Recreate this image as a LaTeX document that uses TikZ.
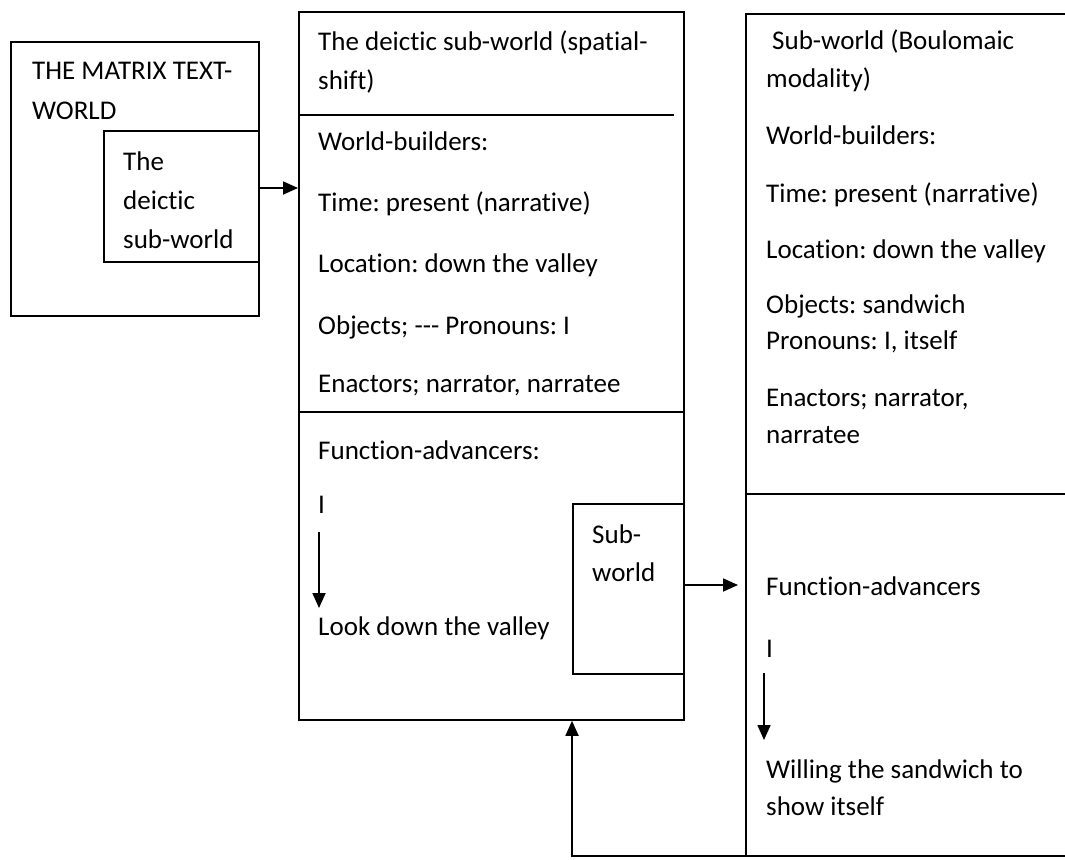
\documentclass[tikz,border=0pt]{standalone}
\usepackage{fontspec}
\setmainfont{Carlito}[Ligatures={NoCommon}]
\usetikzlibrary{arrows.meta}
\frenchspacing
\tikzset{
  box/.style={draw, line width=1.8pt, anchor=north west, inner sep=0pt},
  txt/.style={anchor=base west, inner sep=0pt, font=\fontsize{27}{37}\selectfont},
  arr/.style={line width=1.8pt, -{Triangle[length=15pt,width=13pt]}},
  ln/.style={line width=1.8pt}
}
\begin{document}
\begin{tikzpicture}[x=1pt,y=-1pt]
\useasboundingbox (0,0) rectangle (1065,859);
\clip (0,0) rectangle (1065,859);
% left box
\node[box, minimum width=248pt, minimum height=274pt] (mtw) at (10,41) {};
\node[box, minimum width=155pt, minimum height=131pt] (deic) at (103,130) {};
\node[txt] (t1) at (32,80) {THE MATRIX TEXT-};
\node[txt] (t2) at (32,119) {WORLD};
\node[txt] (t3) at (123,170) {The};
\node[txt] (t4) at (123,209) {deictic};
\node[txt] (t5) at (123,248) {sub-world};
% middle box
\node[box, minimum width=385pt, minimum height=708pt] (mid) at (298,11) {};
\coordinate (s1a) at (300,115);
\coordinate (s1b) at (674,115);
\draw[ln] (s1a) -- (s1b);
\coordinate (s2a) at (298,412);
\draw[ln] (s2a) -- (s2a -| mid.east);
\node[txt] (m1) at (318,51) {The deictic sub-world (spatial-};
\node[txt] (m2) at (318,89) {shift)};
\node[txt] (m3) at (318,150) {World-builders:};
\node[txt] (m4) at (318,211) {Time: present (narrative)};
\node[txt] (m5) at (318,272) {Location: down the valley};
\node[txt] (m6) at (318,334) {Objects; -{}-{}- Pronouns: I};
\node[txt] (m7) at (318,392) {Enactors; narrator, narratee};
\node[txt] (m8) at (318,459) {Function-advancers:};
\node[txt] (m9) at (318,513) {I};
\node[txt] (m10) at (318,635) {Look down the valley};
\coordinate (ma) at (319,532);
\coordinate (mb) at (319,608);
\draw[arr] (ma) -- (mb);
% sub-world inner box
\node[box, minimum width=111pt, minimum height=170pt] (sw) at (572,503) {};
\node[txt] (sw1) at (592,543) {Sub-};
\node[txt] (sw2) at (592,581) {world};
% right box
\coordinate (rtl) at (746,14);
\coordinate (rtr) at (1070,14);
\coordinate (rbl) at (746,856);
\coordinate (rbr) at (1070,856);
\draw[ln] (rtr) -- (rtl) -- (rbl) -- (rbr);
\coordinate (rs) at (746,494);
\draw[ln] (rs) -- (rs -| rtr);
\node[txt] (r1) at (772,50) {Sub-world (Boulomaic};
\node[txt] (r2) at (766,88) {modality)};
\node[txt] (r3) at (766,144) {World-builders:};
\node[txt] (r4) at (766,202) {Time: present (narrative)};
\node[txt] (r5) at (766,258) {Location: down the valley};
\node[txt] (r6) at (766,313) {Objects: sandwich};
\node[txt] (r7) at (766,349) {Pronouns: I, itself};
\node[txt] (r8) at (766,406) {Enactors; narrator,};
\node[txt] (r9) at (766,443) {narratee};
\node[txt] (r10) at (766,595) {Function-advancers};
\node[txt] (r11) at (766,657) {I};
\node[txt] (r12) at (766,778) {Willing the sandwich to};
\node[txt] (r13) at (766,815) {show itself};
\coordinate (ra) at (764,673);
\coordinate (rb) at (764,740);
\draw[arr] (ra) -- (rb);
% connectors
\coordinate (y1) at (0,188);
\draw[arr] (deic.east |- y1) -- (mid.west |- y1);
\coordinate (y2) at (0,585);
\draw[arr, shorten >=8pt] (sw.east |- y2) -- (rtl |- y2);
\draw[arr] (rbl) -| (mid.south -| sw.west);
\end{tikzpicture}
\end{document}
